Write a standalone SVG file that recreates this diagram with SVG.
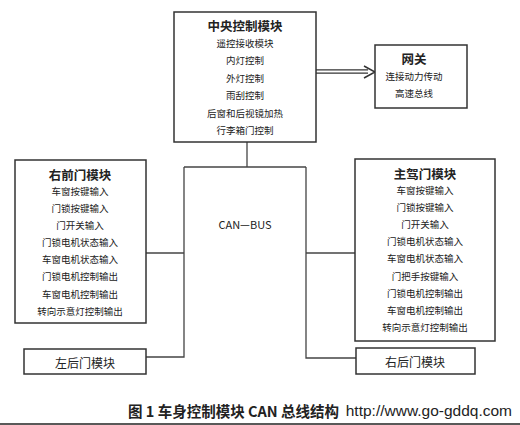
<svg xmlns="http://www.w3.org/2000/svg" width="520" height="425" viewBox="0 0 520 425">
<defs>
<style>
.box{fill:#fff;stroke:#333;stroke-width:1.5}
.ln{fill:none;stroke:#444;stroke-width:1.3}
.t{font-family:"Noto Sans CJK SC","Noto Sans",sans-serif;fill:#222;text-anchor:middle;dominant-baseline:central}
.h{font-size:12.5px;font-weight:bold}
.i{font-size:9.5px}
.cap{font-family:"Noto Sans CJK SC","Noto Sans",sans-serif;fill:#222;font-size:14.5px;font-weight:bold;dominant-baseline:central}
</style>
</defs>
<rect width="520" height="425" fill="#fff"/>
<g id="connectors">
<path d="M316 71.5 H368" fill="none" stroke="#333" stroke-width="4.5"/>
<path d="M316 71.5 H369" fill="none" stroke="#fff" stroke-width="1.8"/>
<path d="M364 66 L375 72 L364 78" fill="none" stroke="#333" stroke-width="1.5"/>
<path class="ln" d="M247 142 V167"/>
<path class="ln" d="M146 253 H184"/>
<path class="ln" d="M306 253 H355"/>
<path class="ln" d="M184 167 H306"/>
<path class="ln" d="M184 167 V357 H146"/>
<path class="ln" d="M306 167 V358 H356"/>
</g>
<g id="central">
<rect class="box" x="174" y="12" width="142" height="130"/>
<text class="t h" x="245" y="25">中央控制模块</text>
<text class="t i" x="245" y="43">遥控接收模块</text>
<text class="t i" x="245" y="60">内灯控制</text>
<text class="t i" x="245" y="78">外灯控制</text>
<text class="t i" x="245" y="95">雨刮控制</text>
<text class="t i" x="245" y="113">后窗和后视镜加热</text>
<text class="t i" x="245" y="130">行李箱门控制</text>
</g>
<g id="gateway">
<rect class="box" x="375" y="45" width="92" height="63"/>
<text class="t h" x="414" y="58">网关</text>
<text class="t i" x="414" y="76">连接动力传动</text>
<text class="t i" x="414" y="93">高速总线</text>
</g>
<g id="canbus">
<text class="t" x="245" y="224" font-size="11" font-family="Liberation Serif,serif">CAN—BUS</text>
</g>
<g id="right-front">
<rect class="box" x="15" y="160" width="131" height="163"/>
<text class="t h" x="80" y="174">右前门模块</text>
<text class="t i" x="80" y="191">车窗按键输入</text>
<text class="t i" x="80" y="208">门锁按键输入</text>
<text class="t i" x="80" y="225">门开关输入</text>
<text class="t i" x="80" y="242">门锁电机状态输入</text>
<text class="t i" x="80" y="259">车窗电机状态输入</text>
<text class="t i" x="80" y="276">门锁电机控制输出</text>
<text class="t i" x="80" y="294">车窗电机控制输出</text>
<text class="t i" x="80" y="311">转向示意灯控制输出</text>
</g>
<g id="driver">
<rect class="box" x="355" y="159" width="140" height="182"/>
<text class="t h" x="425" y="173">主驾门模块</text>
<text class="t i" x="425" y="190">车窗按键输入</text>
<text class="t i" x="425" y="207">门锁按键输入</text>
<text class="t i" x="425" y="224">门开关输入</text>
<text class="t i" x="425" y="241">门锁电机状态输入</text>
<text class="t i" x="425" y="258">车窗电机状态输入</text>
<text class="t i" x="425" y="276">门把手按键输入</text>
<text class="t i" x="425" y="293">门锁电机控制输出</text>
<text class="t i" x="425" y="310">车窗电机控制输出</text>
<text class="t i" x="425" y="327">转向示意灯控制输出</text>
</g>
<g id="left-rear">
<rect class="box" x="24" y="349" width="122" height="25"/>
<text class="t" x="85" y="362" font-size="12">左后门模块</text>
</g>
<g id="right-rear">
<rect class="box" x="356" y="348" width="119" height="26"/>
<text class="t" x="415" y="361" font-size="12">右后门模块</text>
</g>
<text class="cap" x="128" y="410">图 1  车身控制模块 CAN 总线结构</text>
<text x="512" y="410" font-family="Liberation Sans,sans-serif" font-size="15.5" fill="#222" text-anchor="end" dominant-baseline="central">http://www.go-gddq.com</text>
<line x1="0" y1="424" x2="520" y2="424" stroke="#222" stroke-width="1.5"/>
</svg>
